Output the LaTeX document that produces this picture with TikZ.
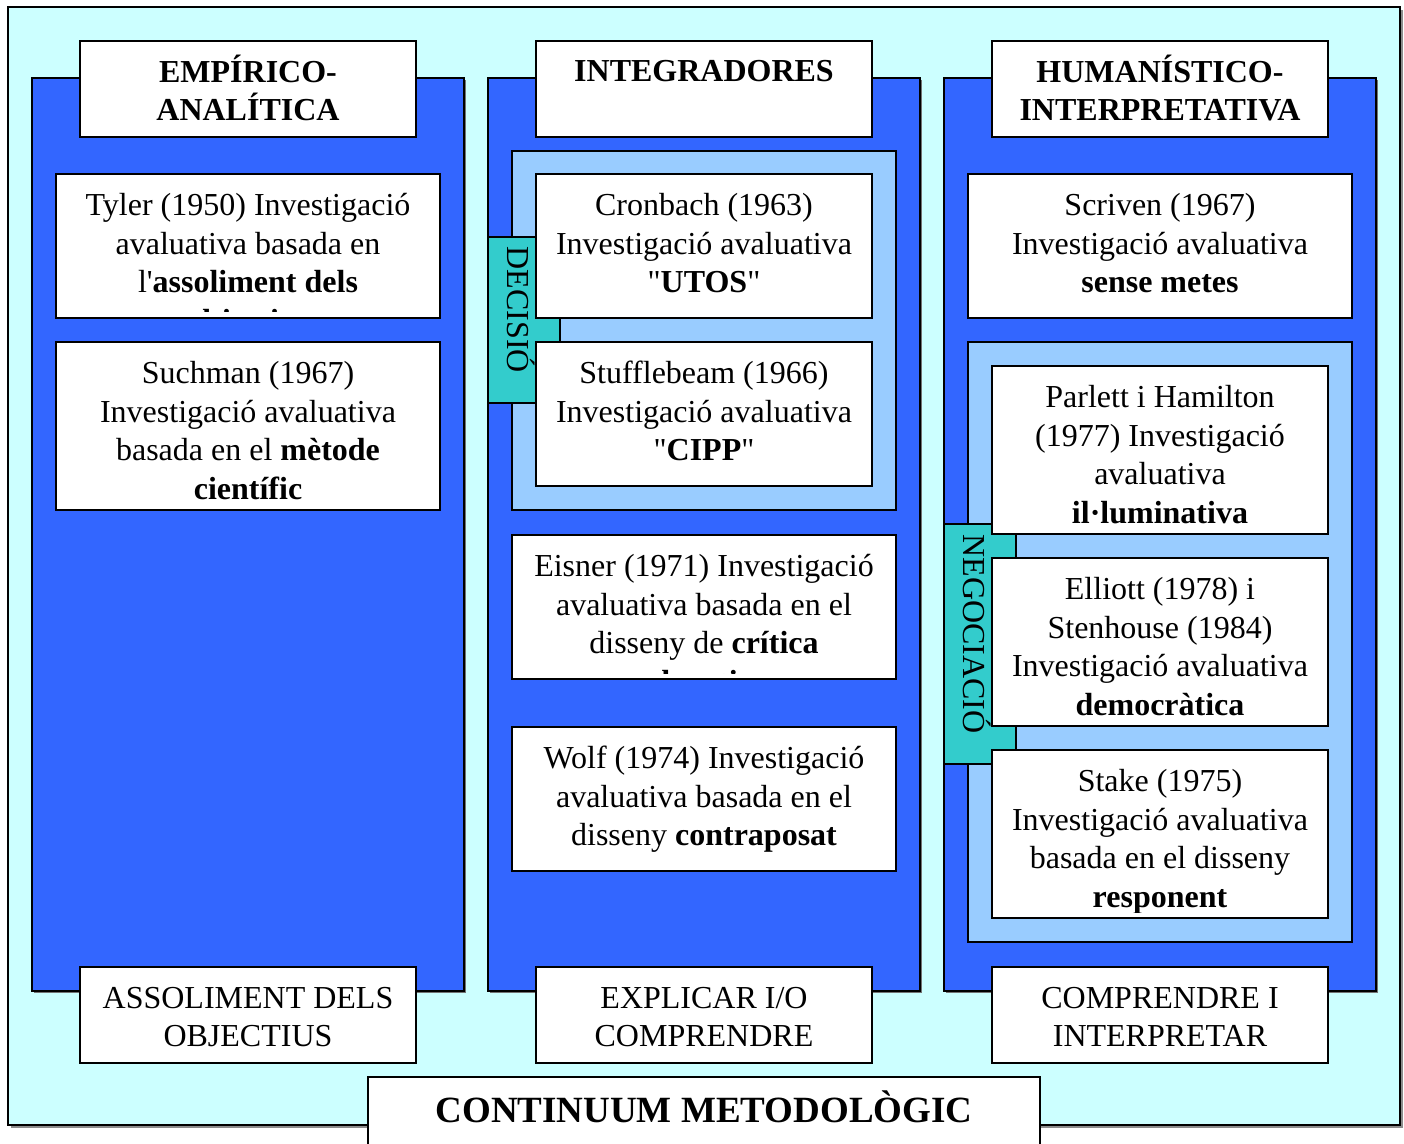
\documentclass[tikz,border=0pt]{standalone}
\usepackage{fontspec}
\setmainfont{Liberation Serif}
\definecolor{bgcyan}{HTML}{CCFFFF}
\definecolor{colblue}{HTML}{3366FF}
\definecolor{panelblue}{HTML}{99CCFF}
\definecolor{tabteal}{HTML}{33CCCC}
\tikzset{
  card/.style={draw=black, fill=white, line width=1pt},
  cardtext/.style={anchor=north, align=center, inner sep=0pt, font=\fontsize{16}{19.25}\selectfont},
  headtext/.style={anchor=north, align=center, inner sep=0pt, font=\fontsize{16}{19}\selectfont\bfseries},
  tabtext/.style={rotate=-90, inner sep=0pt, font=\fontsize{16}{19.25}\selectfont},
}

\begin{document}
\begin{tikzpicture}[x=0.5pt,y=-0.5pt]
\useasboundingbox (0,0) rectangle (1404,1144);
% background frame
\fill[black!45] (11,10) rectangle (1403,1128);
\draw[fill=bgcyan, line width=1pt] (8,7) rectangle (1400,1125);
% the three columns
\foreach \s/\nm/\hd/\ft in {0/empiric/{EMPÍRICO-\\ANALÍTICA}/{ASSOLIMENT DELS\\OBJECTIUS},
    456/integr/{INTEGRADORES}/{EXPLICAR I/O\\COMPRENDRE},
    912/human/{HUMANÍSTICO-\\INTERPRETATIVA}/{COMPRENDRE I\\INTERPRETAR}}{
  \begin{scope}[xshift=\s*0.5pt]
    \fill[black!55] (34,80) rectangle (466,993);
    \draw[fill=colblue, line width=1pt] (32,78) rectangle (464,991);
    \draw[card] (80,41) rectangle (416,137);
    \draw[card] (80,967) rectangle (416,1063);
    \node[headtext] (\nm-head) at (248,55) {\rule{0pt}{13.3pt}\hd};
    \node[cardtext] (\nm-foot) at (248,981) {\rule{0pt}{13.5pt}\ft};
  \end{scope}
}
% grouped panels and tabs
\draw[fill=panelblue, line width=1pt] (512,151) rectangle (896,510);
\draw[fill=panelblue, line width=1pt] (968,342) rectangle (1352,942);
\draw[fill=tabteal, line width=1pt] (488,237) rectangle (560,403);
\draw[fill=tabteal, line width=1pt] (944,524) rectangle (1016,764);
\node[tabtext] (decisio) at (521,310) {DECISIÓ};
\node[tabtext] (negociacio) at (977,634) {NEGOCIACIÓ};
% authors
\foreach \nm/\xa/\ya/\xb/\yb/\txt in {
  tyler/56/174/440/318/{Tyler (1950) Investigació\\avaluativa basada en\\l\textquotesingle\textbf{assoliment dels}\\\textbf{objectius}},
  suchman/56/342/440/510/{Suchman (1967)\\Investigació avaluativa\\basada en el \textbf{mètode}\\\textbf{científic}},
  cronbach/536/174/872/318/{Cronbach (1963)\\Investigació avaluativa\\\textquotedbl\textbf{UTOS}\textquotedbl},
  stuffle/536/342/872/486/{Stufflebeam (1966)\\Investigació avaluativa\\\textquotedbl\textbf{CIPP}\textquotedbl},
  eisner/512/535/896/679/{Eisner (1971) Investigació\\avaluativa basada en el\\disseny de \textbf{crítica}\\\textbf{educativa}},
  wolf/512/727/896/871/{Wolf (1974) Investigació\\avaluativa basada en el\\disseny \textbf{contraposat}},
  scriven/968/174/1352/318/{Scriven (1967)\\Investigació avaluativa\\\textbf{sense metes}},
  parlett/992/366/1328/534/{Parlett i Hamilton\\(1977) Investigació\\avaluativa\\\textbf{il·luminativa}},
  elliott/992/558/1328/726/{Elliott (1978) i\\Stenhouse (1984)\\Investigació avaluativa\\\textbf{democràtica}},
  stake/992/750/1328/918/{Stake (1975)\\Investigació avaluativa\\basada en el disseny\\\textbf{responent}}}{
  \draw[card] (\xa,\ya) rectangle (\xb,\yb);
  \begin{scope}
    \clip (\xa,\ya) rectangle (\xb,{\yb-6});
    \node[cardtext] (\nm) at ({(\xa+\xb)/2},{\ya+14.5}) {\rule{0pt}{13.5pt}\txt};
  \end{scope}
}
% title
\draw[card] (368,1077) rectangle (1040,1150);
\node[anchor=base, inner sep=0pt, font=\fontsize{18.5}{22}\selectfont\bfseries] (title) at (704,1122) {CONTINUUM METODOLÒGIC};
\end{tikzpicture}
\end{document}
